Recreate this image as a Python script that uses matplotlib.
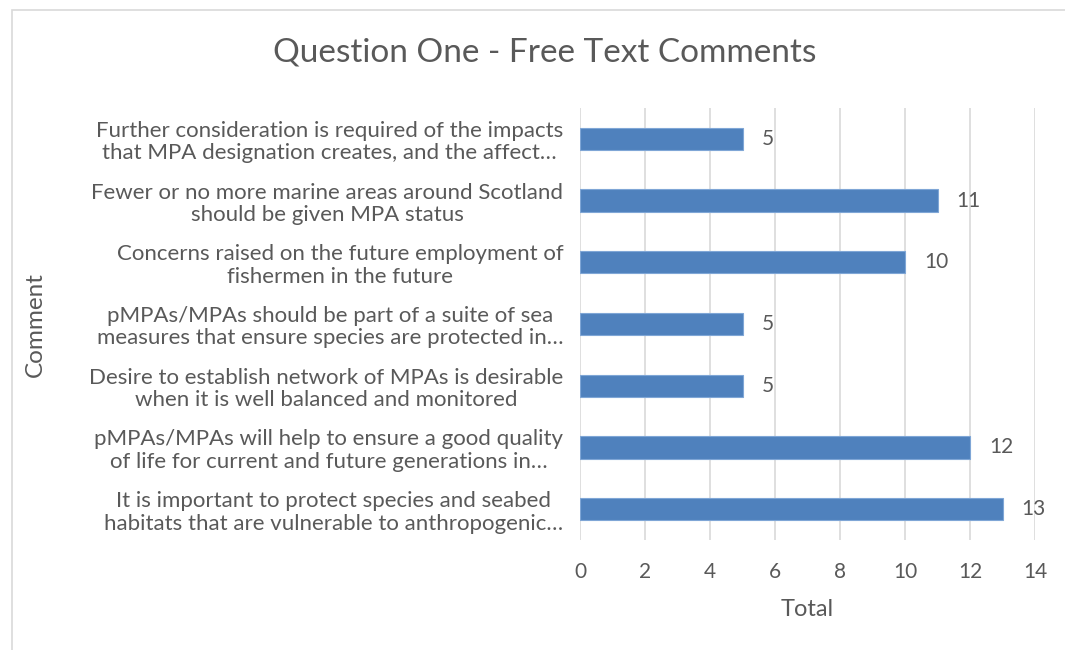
import matplotlib.pyplot as plt
from matplotlib.patches import Rectangle

comments = [
    "Further consideration is required of the impacts\nthat MPA designation creates, and the affect…",
    "Fewer or no more marine areas around Scotland\nshould be given MPA status",
    "Concerns raised on the future employment of\nfishermen in the future",
    "pMPAs/MPAs should be part of a suite of sea\nmeasures that ensure species are protected in…",
    "Desire to establish network of MPAs is desirable\nwhen it is well balanced and monitored",
    "pMPAs/MPAs will help to ensure a good quality\nof life for current and future generations in…",
    "It is important to protect species and seabed\nhabitats that are vulnerable to anthropogenic…",
]
totals = [5, 11, 10, 5, 5, 12, 13]
ticks = [0, 2, 4, 6, 8, 10, 12, 14]

grey = "#595959"
plt.rcParams['font.family'] = ['Lato', 'DejaVu Sans']

fig = plt.figure(figsize=(10.65, 6.5), dpi=100)
fig.patches.append(Rectangle((12 / 1065, -0.1), 1.2, 1 - 10 / 650 + 0.1, transform=fig.transFigure,
                             fill=False, edgecolor="#d9d9d9", linewidth=1.2))
ax = fig.add_axes([580 / 1065, 1 - 540 / 650, 455 / 1065, 432 / 650])

ypos = list(range(len(comments)))
ax.barh(ypos, totals, height=0.36, color="#4f81bd", edgecolor="#7fa6d6", linewidth=0.8, zorder=3)
for y, v in zip(ypos, totals):
    ax.text(v + 0.58, y, str(v), va="center", ha="left", fontsize=15, color=grey)

ax.set_xlim(0, 14)
ax.set_ylim(len(comments) - 0.5, -0.5)
ax.set_xticks(ticks)
ax.set_yticks(ypos)
ax.set_yticklabels(comments, fontsize=16, color=grey, linespacing=1.15, multialignment="center")
ax.tick_params(axis="x", labelsize=15, labelcolor=grey, length=0, pad=16)
ax.tick_params(axis="y", length=0, pad=12)
ax.grid(axis="x", color="#d9d9d9", linewidth=1.2, zorder=0)
for s in ax.spines.values():
    s.set_visible(False)

ax.set_xlabel("Total", fontsize=17, color=grey, labelpad=12)
fig.text(35 / 1065, 1 - 325 / 650, "Comment", rotation=90, ha="center", va="center", fontsize=17.5, color=grey)
fig.text(545 / 1065, 1 - 52 / 650, "Question One - Free Text Comments", ha="center", va="center", fontsize=24, color=grey)

fig.savefig("out.png", dpi=100)
